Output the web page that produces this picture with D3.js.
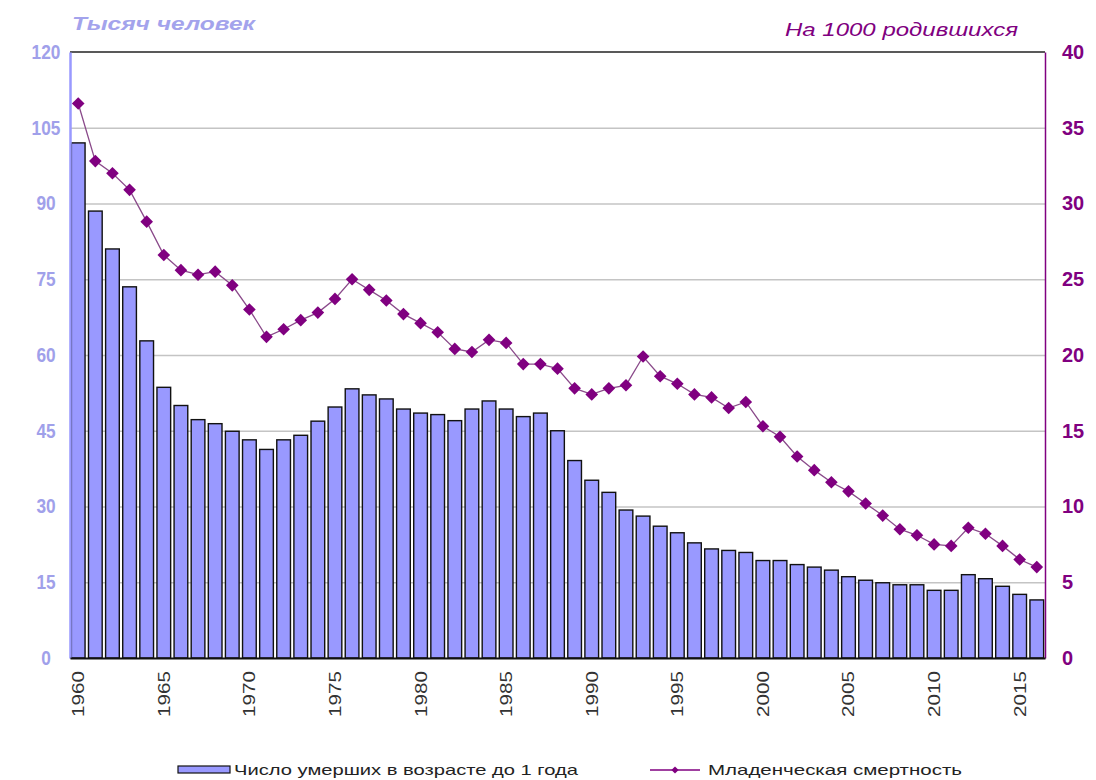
<!doctype html>
<html>
<head>
<meta charset="utf-8">
<title>Младенческая смертность</title>
<script src="https://cdn.jsdelivr.net/npm/d3@7"></script>
<style>
  body { margin: 0; background: #fff; }
  svg { font-family: "Liberation Sans", Arial, sans-serif; display: block; }
  .grid line { stroke: #c4c4c4; stroke-width: 1.3; }
  .grid .domain { display: none; }
  .ly text { fill: #a0a0ea; font-size: 20px; font-weight: bold; }
  .ry text { fill: #800080; font-size: 20px; font-weight: bold; }
  .xa text { fill: #333; font-size: 17px; }
</style>
</head>
<body>
<svg id="chart" width="1096" height="780"></svg>
<script>
// years 1960..2016
var years = d3.range(1960, 2017);

// число умерших в возрасте до 1 года, тыс. человек
var deaths = [
  102.0, 88.5, 81.0, 73.5, 62.8, 53.6, 50.0, 47.2, 46.4, 44.9,
  43.2, 41.3, 43.2, 44.1, 46.9, 49.7, 53.3, 52.1, 51.3, 49.3,
  48.5, 48.2, 47.0, 49.3, 50.9, 49.3, 47.8, 48.5, 45.0, 39.1,
  35.2, 32.8, 29.3, 28.1, 26.1, 24.8, 22.8, 21.6, 21.3, 20.9,
  19.3, 19.3, 18.5, 18.0, 17.4, 16.1, 15.4, 14.9, 14.5, 14.5,
  13.4, 13.4, 16.5, 15.7, 14.2, 12.6, 11.5
];

// младенческая смертность, на 1000 родившихся
var imr = [
  36.6, 32.8, 32.0, 30.9, 28.8, 26.6, 25.6, 25.3, 25.5, 24.6,
  23.0, 21.2, 21.7, 22.3, 22.8, 23.7, 25.0, 24.3, 23.6, 22.7,
  22.1, 21.5, 20.4, 20.2, 21.0, 20.8, 19.4, 19.4, 19.1, 17.8,
  17.4, 17.8, 18.0, 19.9, 18.6, 18.1, 17.4, 17.2, 16.5, 16.9,
  15.3, 14.6, 13.3, 12.4, 11.6, 11.0, 10.2, 9.4, 8.5, 8.1,
  7.5, 7.4, 8.6, 8.2, 7.4, 6.5, 6.0
];

var leftTicks = [0, 15, 30, 45, 60, 75, 90, 105, 120];
var rightTicks = [0, 5, 10, 15, 20, 25, 30, 35, 40];
var yearTicks = d3.range(1960, 2017, 5);

var svg = d3.select("#chart"),
    L = 70, R = 1045, T = 52, B = 658;

var x = d3.scaleBand().domain(years).range([L, R]).paddingInner(0.2).paddingOuter(0.08);
var yL = d3.scaleLinear().domain([0, 120]).range([B, T]);
var yR = d3.scaleLinear().domain([0, 40]).range([B, T]);

// grid
svg.append("g").attr("class", "grid")
  .attr("transform", "translate(" + L + ",0)")
  .call(d3.axisLeft(yL).tickValues(leftTicks.slice(1, -1)).tickSize(-(R - L)).tickFormat(""));

// top border
svg.append("line").attr("x1", L).attr("x2", R).attr("y1", yL(120)).attr("y2", yL(120))
  .attr("stroke", "#222").attr("stroke-width", 1.5);

// bars
svg.append("g").selectAll("rect")
  .data(years)
  .enter().append("rect")
    .attr("x", function(d) { return x(d); })
    .attr("y", function(d, i) { return yL(deaths[i]); })
    .attr("width", x.bandwidth())
    .attr("height", function(d, i) { return B - yL(deaths[i]); })
    .attr("fill", "#9999ff")
    .attr("stroke", "#111")
    .attr("stroke-width", 1.4);

// left axis
var ly = svg.append("g").attr("class", "ly")
  .attr("transform", "translate(" + L + ",0)")
  .call(d3.axisLeft(yL).tickValues(leftTicks).tickSize(0).tickPadding(0));
ly.select(".domain").attr("stroke", "#9999ff").attr("stroke-width", 2.5);
ly.selectAll("text").attr("x", -24).attr("text-anchor", "middle")
  .attr("textLength", function(d) { return String(d).length * 9.6; })
  .attr("lengthAdjust", "spacingAndGlyphs");

// right axis
var ry = svg.append("g").attr("class", "ry")
  .attr("transform", "translate(" + R + ",0)")
  .call(d3.axisRight(yR).tickValues(rightTicks).tickSize(0).tickPadding(17));
ry.select(".domain").attr("stroke", "#800080").attr("stroke-width", 1.5);

// bottom axis
var xa = svg.append("g").attr("class", "xa")
  .attr("transform", "translate(0," + B + ")")
  .call(d3.axisBottom(x).tickValues(yearTicks).tickSize(0));
xa.select(".domain").attr("stroke", "#111").attr("stroke-width", 2);
xa.selectAll("text")
  .attr("transform", "rotate(-90)")
  .attr("x", -13).attr("y", 0).attr("dy", "0.35em")
  .attr("text-anchor", "end")
  .attr("textLength", 46).attr("lengthAdjust", "spacingAndGlyphs");

// line + markers
var cx = function(d, i) { return x(years[i]) + x.bandwidth() / 2; };
svg.append("path")
  .datum(imr)
  .attr("fill", "none")
  .attr("stroke", "#8a4a8a")
  .attr("stroke-width", 1.3)
  .attr("d", d3.line().x(cx).y(function(d) { return yR(d); }));

var diamond = d3.symbol().type(d3.symbolSquare).size(80);
svg.append("g").selectAll("path")
  .data(imr)
  .enter().append("path")
    .attr("d", diamond)
    .attr("fill", "#800080")
    .attr("transform", function(d, i) { return "translate(" + cx(d, i) + "," + yR(d) + ") rotate(45)"; });

// axis titles
svg.append("text").attr("x", 72).attr("y", 30)
  .attr("font-size", 19).attr("font-weight", "bold").attr("font-style", "italic")
  .attr("fill", "#a3a3ec")
  .attr("textLength", 183).attr("lengthAdjust", "spacingAndGlyphs")
  .text("Тысяч человек");
svg.append("text").attr("x", 785).attr("y", 36)
  .attr("font-size", 19).attr("font-style", "italic")
  .attr("fill", "#800080")
  .attr("textLength", 233).attr("lengthAdjust", "spacingAndGlyphs")
  .text("На 1000 родившихся");

// legend
var lg = svg.append("g").attr("font-size", 15).attr("fill", "#222");
lg.append("rect").attr("x", 178).attr("y", 766).attr("width", 52).attr("height", 7)
  .attr("fill", "#9999ff").attr("stroke", "#111").attr("stroke-width", 1.2);
lg.append("text").attr("x", 234).attr("y", 775)
  .attr("textLength", 344).attr("lengthAdjust", "spacingAndGlyphs")
  .text("Число умерших в возрасте до 1 года");
lg.append("line").attr("x1", 650).attr("x2", 700).attr("y1", 770).attr("y2", 770)
  .attr("stroke", "#800080").attr("stroke-width", 1.3);
lg.append("path").attr("d", d3.symbol().type(d3.symbolSquare).size(26))
  .attr("fill", "#800080").attr("transform", "translate(675,770) rotate(45)");
lg.append("text").attr("x", 708).attr("y", 775)
  .attr("textLength", 254).attr("lengthAdjust", "spacingAndGlyphs")
  .text("Младенческая смертность");
</script>
</body>
</html>
